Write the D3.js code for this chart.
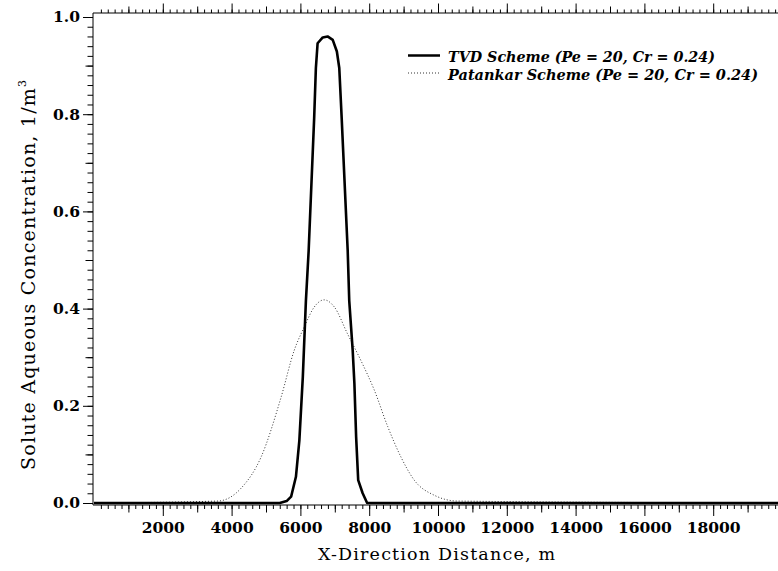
<!DOCTYPE html>
<html>
<head>
<meta charset="utf-8">
<script src="https://cdn.jsdelivr.net/npm/d3@7"></script>
<style>
  body { margin: 0; background: #fff; }
  svg { display: block; }
  .axis text { font-family: 'DejaVu Serif', serif; font-weight: bold; font-size: 15.5px; fill: #000; }
  .axis line { stroke: #000; }
  .axis-title { font-family: 'DejaVu Serif', serif; font-size: 17.5px; fill: #000; }
  .y-title { font-size: 19px; }
  .legend-label { font-family: 'DejaVu Serif', serif; font-weight: bold; font-style: italic; font-size: 14px; fill: #000; }
</style>
</head>
<body>
<svg id="chart"></svg>
<script>
// x-direction distance (m) and concentration
const tvdDistance = [0, 5400, 5600, 5730, 5870, 5970, 6070, 6160, 6240, 6400, 6450, 6500, 6650, 6790, 6940, 7060, 7130, 7200, 7375, 7420, 7520, 7570, 7620, 7680, 7810, 7940, 20000];
const tvdConc     = [0, 0, 0.004, 0.013, 0.054, 0.129, 0.259, 0.416, 0.519, 0.792, 0.895, 0.946, 0.958, 0.960, 0.953, 0.929, 0.895, 0.792, 0.519, 0.416, 0.314, 0.245, 0.136, 0.047, 0.020, 0, 0];

const patankarDistance = [0, 3600, 4270, 4860, 5440, 5820, 6110, 6400, 6690, 6990, 7370, 7760, 8150, 8540, 8920, 9310, 9890, 10570, 20000];
const patankarConc     = [0, 0.004, 0.030, 0.095, 0.218, 0.314, 0.362, 0.403, 0.418, 0.403, 0.348, 0.293, 0.232, 0.157, 0.095, 0.047, 0.016, 0.004, 0];

const xDomain = [0, 20000];
const yDomain = [0, 1];
const xLabelTicks = [2000, 4000, 6000, 8000, 10000, 12000, 14000, 16000, 18000];
const yLabelTicks = [0, 0.2, 0.4, 0.6, 0.8, 1.0];

const seriesNames = ['TVD Scheme (Pe = 20, Cr = 0.24)', 'Patankar Scheme (Pe = 20, Cr = 0.24)'];

class ConcentrationChart {

  constructor(_config, _series) {
    this.config = {
      parentElement: _config.parentElement,
      containerWidth: _config.containerWidth || 778,
      containerHeight: _config.containerHeight || 571,
      margin: _config.margin || {top: 17, right: -4, bottom: 68, left: 94}
    }
    this.series = _series;
    this.initVis();
  }

  initVis() {
    let vis = this;

    vis.width = vis.config.containerWidth - vis.config.margin.left - vis.config.margin.right;
    vis.height = vis.config.containerHeight - vis.config.margin.top - vis.config.margin.bottom;

    vis.xScale = d3.scaleLinear()
        .domain(xDomain)
        .range([0, vis.width]);

    vis.yScale = d3.scaleLinear()
        .domain(yDomain)
        .range([vis.height, 0]);

    vis.svg = d3.select(vis.config.parentElement)
        .attr('width', vis.config.containerWidth)
        .attr('height', vis.config.containerHeight);

    vis.chart = vis.svg.append('g')
        .attr('transform', `translate(${vis.config.margin.left},${vis.config.margin.top})`);

    // axis lines sit a little off the data frame, like the original
    vis.bottomOffset = vis.height + 2;
    vis.topOffset = -4;
    vis.leftOffset = -1;

    vis.xAxisG = vis.chart.append('g').attr('class', 'axis x-axis')
        .attr('transform', `translate(0,${vis.bottomOffset})`);
    vis.xTopG = vis.chart.append('g').attr('class', 'axis x-top')
        .attr('transform', `translate(0,${vis.topOffset})`);
    vis.yAxisG = vis.chart.append('g').attr('class', 'axis y-axis')
        .attr('transform', `translate(${vis.leftOffset},0)`);

    vis.frame = vis.chart.append('path')
        .attr('fill', 'none')
        .attr('stroke', '#000')
        .attr('stroke-width', 1);

    vis.lineG = vis.chart.append('g');

    // Axis titles
    vis.svg.append('text')
        .attr('class', 'axis-title')
        .attr('x', 318)
        .attr('y', 560)
        .attr('textLength', 237)
        .attr('lengthAdjust', 'spacing')
        .text('X-Direction Distance, m');

    const yTitle = vis.svg.append('text')
        .attr('class', 'axis-title y-title')
        .attr('transform', 'rotate(-90)')
        .attr('x', -470)
        .attr('y', 35)
        .attr('textLength', 390)
        .attr('lengthAdjust', 'spacing');
    yTitle.append('tspan').text('Solute Aqueous Concentration, 1/m');
    yTitle.append('tspan').attr('dy', -9).style('font-size', '11px').text('3');

    vis.legend = vis.svg.append('g').attr('transform', 'translate(408,55.5)');
  }

  updateVis() {
    let vis = this;
    vis.xValue = d => d[0];
    vis.yValue = d => d[1];
    vis.renderVis();
  }

  renderVis() {
    let vis = this;
    const x = vis.xScale, y = vis.yScale;

    // bottom axis: minor / medium / major ticks
    const minorX = d3.range(xDomain[0] + 200, xDomain[1] + 1, 200);
    const medX = d3.range(1000, xDomain[1] + 1, 2000);
    vis.xAxisG.append('g').call(d3.axisBottom(x).tickValues(minorX).tickSize(4).tickSizeOuter(0).tickFormat(''));
    vis.xAxisG.append('g').call(d3.axisBottom(x).tickValues(medX).tickSize(7.5).tickSizeOuter(0).tickFormat(''));
    vis.xAxisG.append('g').call(d3.axisBottom(x).tickValues(xLabelTicks).tickSize(11).tickPadding(6).tickSizeOuter(0).tickFormat(d3.format('d')));

    vis.xTopG.append('g').call(d3.axisTop(x).tickValues(minorX).tickSize(3.5).tickSizeOuter(0).tickFormat(''));
    vis.xTopG.append('g').call(d3.axisTop(x).tickValues(medX).tickSize(6.5).tickSizeOuter(0).tickFormat(''));
    vis.xTopG.append('g').call(d3.axisTop(x).tickValues(xLabelTicks).tickSize(9.5).tickSizeOuter(0).tickFormat(''));

    const minorY = d3.range(0, 51).map(i => i * 0.02);
    const medY = [0.1, 0.3, 0.5, 0.7, 0.9];
    vis.yAxisG.append('g').call(d3.axisLeft(y).tickValues(minorY).tickSize(5.5).tickSizeOuter(0).tickFormat(''));
    vis.yAxisG.append('g').call(d3.axisLeft(y).tickValues(medY).tickSize(7.5).tickSizeOuter(0).tickFormat(''));
    vis.yAxisG.append('g').call(d3.axisLeft(y).tickValues(yLabelTicks).tickSize(10).tickPadding(3).tickSizeOuter(0).tickFormat(d3.format('.1f')));

    vis.chart.selectAll('.domain').remove();

    const x0 = x.range()[0] + vis.leftOffset, x1 = x.range()[1];
    vis.frame.attr('d', `M${x1},${vis.topOffset}H${x0}V${vis.bottomOffset}H${x1}`);

    const line = d3.line().x(d => x(vis.xValue(d))).y(d => y(vis.yValue(d)));

    vis.lineG.selectAll('.series')
        .data(vis.series.slice().reverse())
      .join('path')
        .attr('class', 'series')
        .attr('fill', 'none')
        .attr('stroke', d => d.color)
        .attr('stroke-width', d => d.width)
        .attr('stroke-dasharray', d => d.dash)
        .attr('stroke-linejoin', 'round')
        .attr('d', d => line.curve(d.curve)(d.values));

    // legend
    const textLengths = [267, 310];
    const items = vis.legend.selectAll('.item')
        .data(vis.series)
      .join('g')
        .attr('class', 'item')
        .attr('transform', (d, i) => `translate(0,${i * 17.5})`);
    items.append('line')
        .attr('x1', 0).attr('x2', 32)
        .attr('stroke', d => d.color)
        .attr('stroke-width', d => d.width === 1 ? 1 : 2.5)
        .attr('stroke-dasharray', d => d.dash);
    items.append('text')
        .attr('class', 'legend-label')
        .attr('x', 40)
        .attr('y', 6.5)
        .attr('textLength', (d, i) => textLengths[i])
        .attr('lengthAdjust', 'spacingAndGlyphs')
        .text(d => d.name);
  }
}

const series = [
  {name: seriesNames[0], values: d3.zip(tvdDistance, tvdConc), color: '#000', width: 2.6, dash: null, curve: d3.curveLinear},
  {name: seriesNames[1], values: d3.zip(patankarDistance, patankarConc), color: '#333', width: 1, dash: '1,2', curve: d3.curveMonotoneX}
];

const chart = new ConcentrationChart({parentElement: '#chart'}, series);
chart.updateVis();
</script>
</body>
</html>
